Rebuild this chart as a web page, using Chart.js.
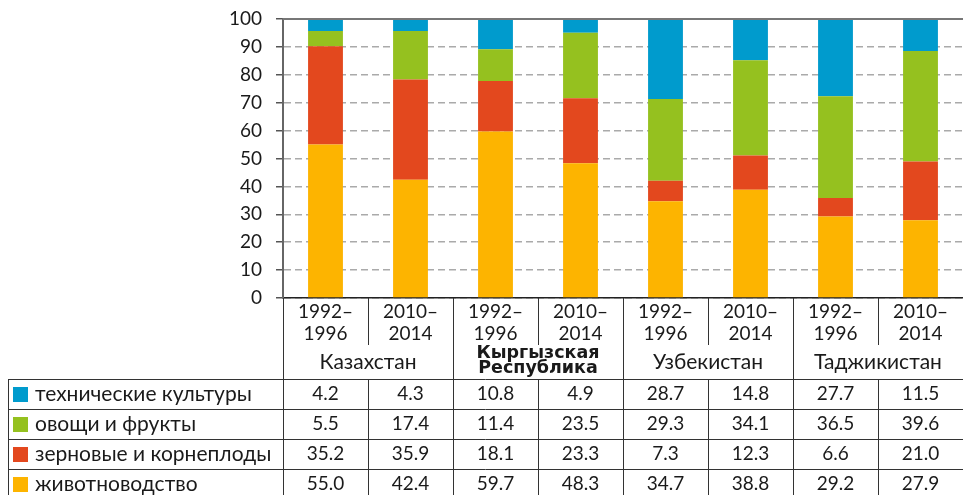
<!DOCTYPE html>
<html>
<head>
<meta charset="utf-8">
<script src="https://cdn.jsdelivr.net/npm/chart.js@4.4.1/dist/chart.umd.min.js"></script>
<style>
  html, body { margin: 0; padding: 0; background: #fff; }
</style>
</head>
<body>
<canvas id="chart" width="963" height="495"></canvas>
<script>
// Data (shares in %)
const periods = [['1992–', '1996'], ['2010–', '2014'], ['1992–', '1996'], ['2010–', '2014'],
                 ['1992–', '1996'], ['2010–', '2014'], ['1992–', '1996'], ['2010–', '2014']];
const countries = ['Казахстан', ['Кыргызская', 'Республика'], 'Узбекистан', 'Таджикистан'];
const seriesNames = ['животноводство', 'зерновые и корнеплоды', 'овощи и фрукты', 'технические культуры'];
const livestock = [55.0, 42.4, 59.7, 48.3, 34.7, 38.8, 29.2, 27.9];
const grains = [35.2, 35.9, 18.1, 23.3, 7.3, 12.3, 6.6, 21.0];
const vegetables = [5.5, 17.4, 11.4, 23.5, 29.3, 34.1, 36.5, 39.6];
const technical = [4.2, 4.3, 10.8, 4.9, 28.7, 14.8, 27.7, 11.5];
const yTicks = [0, 10, 20, 30, 40, 50, 60, 70, 80, 90, 100];

const colors = ['#fdb400', '#e3481e', '#95c11f', '#009bcd'];
const FONT = 'Lato';
const textColor = '#1a1a1a';
const lineColor = '#333';

// Draws the top line, group labels and the data table under the axis
const tablePlugin = {
  id: 'tablePlugin',
  afterDraw(chart) {
    const ctx = chart.ctx;
    const x = chart.scales.x;
    const y = chart.scales.y;
    const area = chart.chartArea;
    const step = x.getPixelForValue(1) - x.getPixelForValue(0);
    const edges = [];
    for (let i = 0; i <= periods.length; i++) edges.push(x.getPixelForValue(i) - step / 2);

    ctx.save();
    // solid line at 100
    ctx.strokeStyle = '#777';
    ctx.lineWidth = 2;
    ctx.beginPath();
    ctx.moveTo(area.left, y.getPixelForValue(100));
    ctx.lineTo(area.right, y.getPixelForValue(100));
    ctx.stroke();

    const tableTop = 379;
    const rowH = 30;
    const bottom = chart.height;

    ctx.strokeStyle = lineColor;
    ctx.lineWidth = 1;
    // vertical lines: full height at group borders, split inside a group
    edges.forEach((ex, i) => {
      const px = Math.round(ex) + 0.5;
      ctx.beginPath();
      if (i % 2 === 0) {
        ctx.moveTo(px, area.bottom);
        ctx.lineTo(px, bottom);
      } else {
        ctx.moveTo(px, area.bottom);
        ctx.lineTo(px, 345);
        ctx.moveTo(px, tableTop);
        ctx.lineTo(px, bottom);
      }
      ctx.stroke();
    });
    // horizontal lines and left border
    for (let r = 0; r < 4; r++) {
      const ly = tableTop + r * rowH + 0.5;
      ctx.beginPath();
      ctx.moveTo(8, ly);
      ctx.lineTo(chart.width, ly);
      ctx.stroke();
    }
    ctx.beginPath();
    ctx.moveTo(8.5, tableTop);
    ctx.lineTo(8.5, bottom);
    ctx.stroke();

    // group labels
    ctx.fillStyle = textColor;
    ctx.textAlign = 'center';
    ctx.textBaseline = 'middle';
    countries.forEach((c, g) => {
      const cx = (edges[g * 2] + edges[g * 2 + 2]) / 2;
      if (Array.isArray(c)) {
        ctx.font = 'bold 17.5px "DejaVu Sans"';
        ctx.fillText(c[0], cx, 353);
        ctx.fillText(c[1], cx, 368);
      } else {
        ctx.font = '21px ' + FONT;
        ctx.fillText(c, cx, 362);
      }
    });

    // table rows: top row is the top dataset
    const rows = chart.data.datasets.slice().reverse();
    rows.forEach((ds, r) => {
      const cy = tableTop + r * rowH + rowH / 2;
      ctx.fillStyle = ds.backgroundColor;
      ctx.fillRect(13, cy - 7, 15, 15);
      ctx.fillStyle = textColor;
      ctx.textAlign = 'left';
      ctx.font = '21px ' + FONT;
      ctx.fillText(ds.label, 35, cy);
      ctx.textAlign = 'center';
      ctx.font = '19px ' + FONT;
      ds.data.forEach((v, i) => {
        ctx.fillText(v.toFixed(1), x.getPixelForValue(i), cy);
      });
    });
    ctx.restore();
  }
};

const datasets = [livestock, grains, vegetables, technical].map((d, i) => ({
  label: seriesNames[i],
  data: d,
  backgroundColor: colors[i],
  borderWidth: 0,
  barPercentage: 0.41,
  categoryPercentage: 1
}));

new Chart(document.getElementById('chart'), {
  type: 'bar',
  data: { labels: periods, datasets: datasets },
  options: {
    responsive: false,
    animation: false,
    devicePixelRatio: 1,
    layout: { padding: { top: 19, right: 0, left: 0, bottom: 0 } },
    plugins: { legend: { display: false }, tooltip: { enabled: false } },
    scales: {
      x: {
        stacked: true,
        grid: { display: false, drawTicks: false },
        border: { display: true, color: '#222', width: 1.5 },
        ticks: {
          color: textColor,
          font: { family: FONT, size: 19, lineHeight: 1.15 },
          padding: 3,
          maxRotation: 0,
          autoSkip: false
        },
        afterFit(scale) { scale.height = 197; scale.paddingLeft = 0; scale.paddingRight = 0; }
      },
      y: {
        stacked: true,
        min: 0,
        max: 100,
        afterBuildTicks(scale) { scale.ticks = yTicks.map(v => ({ value: v })); },
        grid: { color: '#aaa', lineWidth: 1.5, tickLength: 7, tickColor: '#555' },
        border: {
          display: true,
          color: '#666',
          width: 2,
          dash: (c) => (c.type === 'tick' ? [7, 4] : [])
        },
        ticks: {
          color: textColor,
          font: { family: FONT, size: 19 },
          padding: 14
        },
        afterFit(scale) { scale.width = 283; scale.paddingTop = 0; scale.paddingBottom = 0; }
      }
    }
  },
  plugins: [tablePlugin]
});
</script>
</body>
</html>
